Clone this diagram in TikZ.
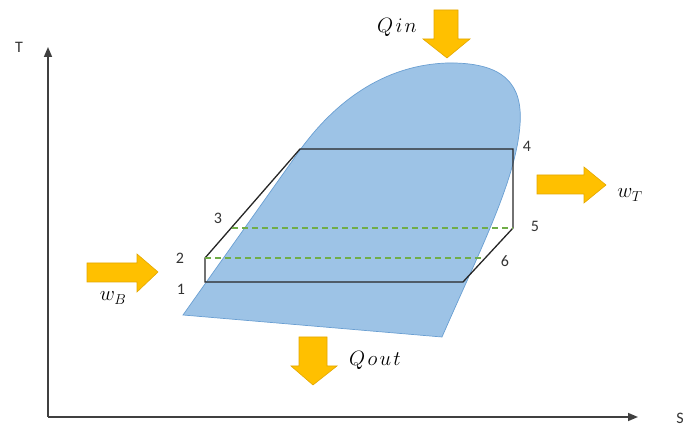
\documentclass[tikz,border=0pt]{standalone}
\usepackage{fontspec}
\newfontfamily\labelfont{Carlito}
\usetikzlibrary{arrows.meta}
\definecolor{dome}{HTML}{9DC3E6}
\definecolor{domeedge}{HTML}{6A9FD2}
\definecolor{heat}{HTML}{FFC000}
\definecolor{heatedge}{HTML}{E3A700}
\definecolor{wetline}{HTML}{70AD47}
\definecolor{axisgrey}{HTML}{404040}
\begin{document}
\begin{tikzpicture}[x=1pt,y=-1pt,
    statelbl/.style={font=\labelfont\fontsize{16}{19}\selectfont,text=black!80},
    mathlbl/.style={font=\fontsize{20}{24}\selectfont,text=black},
    flow/.style={fill=heat,draw=heatedge,line width=0.6pt,line join=miter},
    loopline/.style={line width=1.3pt,black!85,line join=miter},
    wetdash/.style={wetline,line width=1.1pt,dash pattern=on 6pt off 4pt},
    axisline/.style={line width=1.6pt,axisgrey,-{Triangle[length=10pt,width=8pt]}}]
    \useasboundingbox (0,0) rectangle (686,427);
    % axes
    \coordinate (O) at (48,417);
    \coordinate (Ttip) at (48,47);
    \coordinate (Stip) at (638,417);
    \draw[axisline] (O) -- (Ttip);
    \draw[axisline] (O) -- (Stip);
    \node[statelbl] (Tlbl) at (19,47) {T};
    \node[statelbl] (Slbl) at (680,418) {S};
    % saturation dome
    \filldraw[fill=dome,draw=domeedge,line width=0.7pt]
        (183,315) -- (300,150) .. controls (340,95) and (390,65) .. (447,63)
        .. controls (505,62) and (523,85) .. (520,125)
        .. controls (516,180) and (480,250) .. (442,337) -- cycle;
    % cycle states
    \coordinate (s1) at (205,282);
    \coordinate (s2) at (205,258);
    \coordinate (s3) at (232,228);
    \coordinate (top) at (300,149);
    \coordinate (s4) at (513,149);
    \coordinate (s5) at (513,228);
    \coordinate (s6) at (485,258);
    \coordinate (low) at (463,282);
    \draw[loopline] (s1) -- (s2) -- (top) -- (s4) -- (s5) -- (low) -- cycle;
    \draw[wetdash] (s3) -- (s5);
    \draw[wetdash] (s2) -- (s6);
    \node[statelbl] (n1) at (181,289) {1};
    \node[statelbl] (n2) at (180,258) {2};
    \node[statelbl] (n3) at (218,218) {3};
    \node[statelbl] (n4) at (527,146) {4};
    \node[statelbl] (n5) at (535,226) {5};
    \node[statelbl] (n6) at (505,261) {6};
    % heat and work arrows
    \filldraw[flow] (434,10) -- (458,10) -- (458,39) -- (470,39) -- (447,58)
        -- (423,39) -- (434,39) -- cycle;
    \filldraw[flow] (299,337) -- (327,337) -- (327,366) -- (337,366) -- (313,385)
        -- (291,366) -- (299,366) -- cycle;
    \filldraw[flow] (537,175) -- (584,175) -- (584,167) -- (606,185) -- (584,203)
        -- (584,194) -- (537,194) -- cycle;
    \filldraw[flow] (87,263) -- (137,263) -- (137,254) -- (158,272) -- (137,292)
        -- (137,282) -- (87,282) -- cycle;
    \node[mathlbl] (qin) at (397,27) {$Q\mkern2mu i\mkern2mu n$};
    \node[mathlbl] (qout) at (375,360) {$Q\mkern2mu o\mkern2mu u\mkern2mu t$};
    \node[mathlbl] (wt) at (630,195) {$w_T$};
    \node[mathlbl] (wb) at (113,298) {$w_B$};
\end{tikzpicture}
\end{document}
